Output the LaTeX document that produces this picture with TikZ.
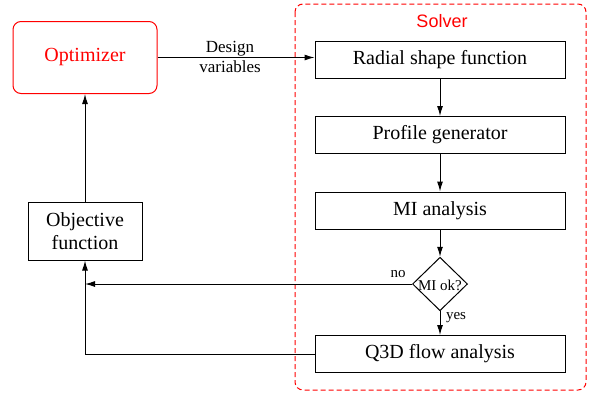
\documentclass[tikz,border=0pt]{standalone}
\usepackage{fontspec}
\setmainfont{Liberation Serif}
\newfontfamily\solverfont{Liberation Sans}
\usetikzlibrary{shapes.geometric,arrows.meta}
\begin{document}
\begin{tikzpicture}[x=1pt,y=-1pt,
  box/.style={draw, line width=1pt, minimum width=250pt, minimum height=37pt, inner sep=0pt, font=\fontsize{20}{22}\selectfont},
  arr/.style={line width=1pt, -{Latex[length=10pt,width=6pt]}},
  small/.style={font=\fontsize{15}{17}\selectfont, inner sep=0pt},
  lbl/.style={font=\fontsize{17}{20}\selectfont, align=center, inner sep=0pt},
]
\useasboundingbox (0,0) rectangle (596,394);
\draw[red, dash pattern=on 5pt off 3pt, line width=1pt, rounded corners=8pt] (295,4) rectangle (586,390);
\node[red, font=\solverfont\fontsize{18}{20}\selectfont] (solv) at (442,21) {Solver};
\node[box] (rad) at (440,60) {Radial shape function};
\node[box] (prof) at (440,135) {Profile generator};
\node[box] (mi) at (440,210.5) {MI analysis};
\node[draw, diamond, line width=1pt, minimum width=55pt, minimum height=53.5pt, inner sep=0pt] (dec) at (440,284) {};
\node[small] (dect) at (440,285) {MI ok?};
\node[box] (q3d) at (440,354) {Q3D flow analysis};
\node[draw, red, text=red, rounded corners=8pt, line width=1pt, minimum width=144pt, minimum height=72pt, inner sep=0pt, font=\fontsize{20}{22}\selectfont] (opt) at (85,57.5) {Optimizer};
\node[draw, line width=1pt, minimum width=114pt, minimum height=58pt, inner sep=0pt, align=center, font=\fontsize{20}{23}\selectfont] (obj) at (85,231) {Objective\\function};
\node[lbl] (dv) at (230,57) {Design\\variables};
\node[small] (no) at (398,274) {no};
\node[small] (yes) at (456,318) {yes};
\draw[arr] (opt.east) -- (opt.east -| rad.west);
\draw[arr] (rad.south) -- (prof.north);
\draw[arr] (prof.south) -- (mi.north);
\draw[arr] (mi.south) -- (dec.north);
\draw[arr] (dec.south) -- (q3d.north);
\draw[arr] (dec.west) -- (dec.west -| obj.south);
\draw[arr] (q3d.west) -- (q3d.west -| obj.south) -- (obj.south);
\draw[arr] (obj.north) -- (opt.south);
\end{tikzpicture}
\end{document}
